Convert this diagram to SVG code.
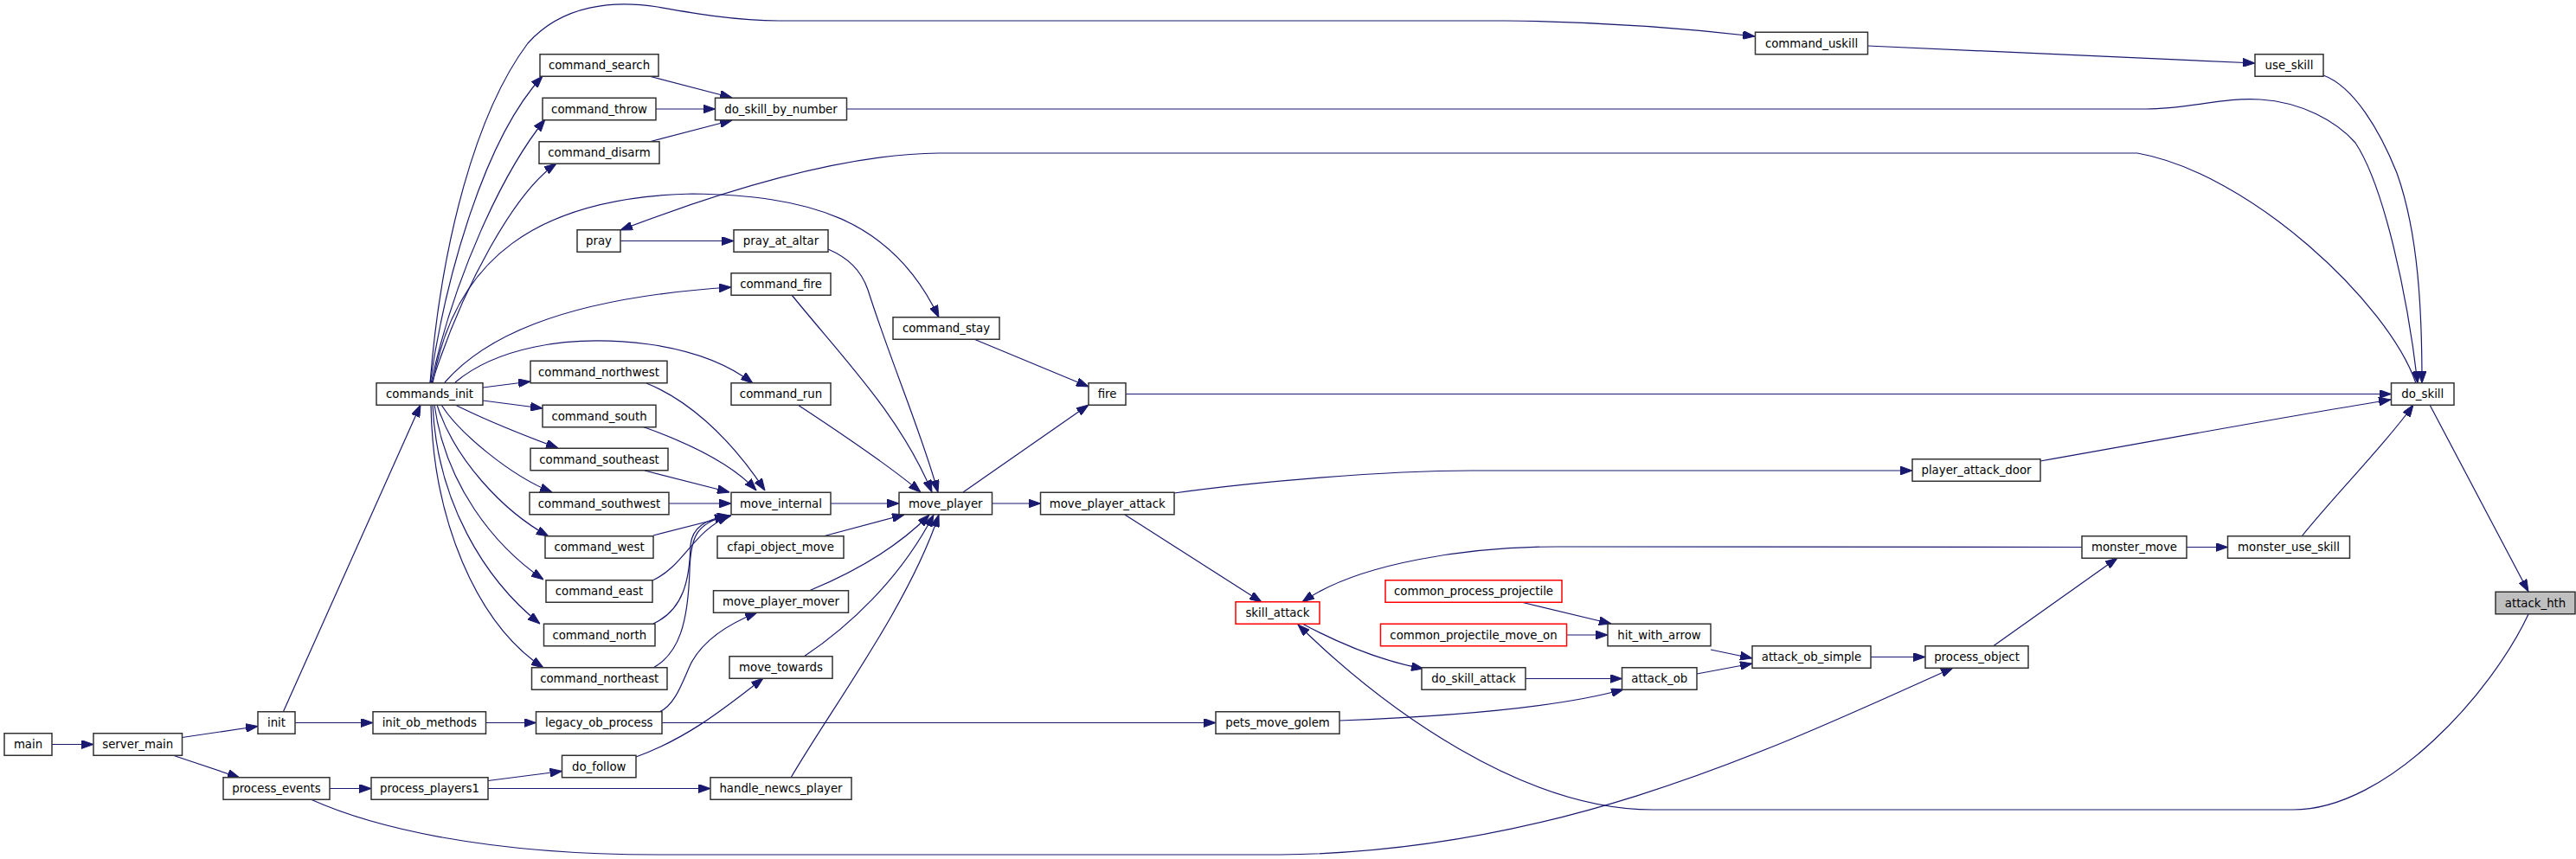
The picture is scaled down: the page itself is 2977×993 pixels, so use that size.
<svg xmlns="http://www.w3.org/2000/svg" width="2977" height="993" viewBox="0 0 2977 993">
<defs>
<marker id="a" markerUnits="userSpaceOnUse" markerWidth="14" markerHeight="10" refX="14" refY="5" orient="auto">
<path d="M0,0 L14,5 L0,10 z" fill="#191970" stroke="#191970" stroke-width="1"/>
</marker>
<style>
.n rect{fill:#fff;stroke:#333;stroke-width:1.5}
.n.r rect{stroke:#ff0000}
.n.g rect{fill:#bfbfbf}
text{font-family:"DejaVu Sans","Liberation Sans",sans-serif;font-size:13.3px;text-anchor:middle;fill:#000}
#edges path{fill:none;stroke:#191970;stroke-width:1.2;marker-end:url(#a)}
</style>
</defs>
<rect width="2977" height="993" fill="#fff"/>
<g id="edges">
<path d="M60,860.5 L108,860.5"/>
<path d="M210.5,852.5 L298,839.5"/>
<path d="M201,873.5 L277,899"/>
<path d="M327.5,822.5 L486,468"/>
<path d="M341,835.5 L431,835.5"/>
<path d="M561.5,835.5 L619.5,835.5"/>
<path d="M381,911.5 L429,911.5"/>
<path d="M359,924 C430,956 560,988 760,988 L1480,988 C1800,985 2050,865 2257,772"/>
<path d="M564,902.5 L649.5,891.5"/>
<path d="M564,911.5 L821,911.5"/>
<path d="M735,875 C790,855 830,825 882,784"/>
<path d="M762,823 C780,815 788,790 798,768 C812,740 840,722 875,708"/>
<path d="M765,835.5 L1405,835.5"/>
<path d="M914,899 C960,820 1050,700 1085,595"/>
<path d="M929,759 C980,725 1040,670 1079,595"/>
<path d="M936,682.5 C990,660 1040,630 1074,595"/>
<path d="M951,620 L1045,595"/>
<path d="M960,582 L1039,582"/>
<path d="M922,468 C960,493 1030,540 1064,569"/>
<path d="M915,341 C975,415 1040,480 1077,569"/>
<path d="M957,288 C980,298 995,312 1003,335 C1030,420 1065,500 1084,569"/>
<path d="M1113,569 L1258,468"/>
<path d="M1125.5,392 L1258,447"/>
<path d="M500,443 C525,300 620,228 800,224 C930,226 1030,250 1085,367"/>
<path d="M514,442 C555,395 640,345 845,332"/>
<path d="M526,442 C570,405 650,385 750,398 C800,405 840,420 870,443"/>
<path d="M497,443 C510,280 550,130 610,50 C650,5 710,0 760,8 C800,15 850,24 900,24 L1740,24 C1850,25 1950,33 2028,42"/>
<path d="M497,443 C515,320 560,160 627,88"/>
<path d="M498,443 C525,320 580,200 630,138"/>
<path d="M499,443 C535,330 595,222 643,189"/>
<path d="M558,448 L613,441"/>
<path d="M558,463 L627,472"/>
<path d="M526,468 C570,490 610,505 645,518"/>
<path d="M510,468 C530,500 590,550 638,569"/>
<path d="M505,468 C525,530 580,590 634,620"/>
<path d="M502,468 C515,560 570,630 628,670"/>
<path d="M500,468 C505,580 560,670 624,721"/>
<path d="M498,468 C500,600 550,720 628,772"/>
<path d="M747,443 C790,460 840,500 884,567"/>
<path d="M742,493 C790,510 845,535 874,567"/>
<path d="M745,544 L843,569"/>
<path d="M773,582 L845,582"/>
<path d="M755,619 L845,596"/>
<path d="M754,671 C790,655 800,615 843,596"/>
<path d="M755,721 C790,705 797,670 798,630 C800,610 815,600 843,596"/>
<path d="M755,772 C785,755 795,720 797,660 C798,620 805,605 840,596"/>
<path d="M750,88 L846,113"/>
<path d="M758,126 L826.5,126"/>
<path d="M750,164 L846,139"/>
<path d="M978.5,126 L2480,126 C2530,126 2570,112 2612,115 C2660,118 2700,140 2722,165 C2755,215 2782,340 2794,443"/>
<path d="M2685,87 C2720,100 2750,150 2770,200 C2795,270 2799,360 2799,443"/>
<path d="M2792,443 C2760,350 2600,200 2470,177 L1085,177 C980,178 850,215 717,266"/>
<path d="M1301,455.5 L2763.5,455.5"/>
<path d="M2358,533 C2500,508 2650,480 2763,462"/>
<path d="M2660,620 C2700,570 2760,510 2789,468"/>
<path d="M2808,468 L2922,684"/>
<path d="M2158.5,53 C2300,58 2450,66 2606,73"/>
<path d="M717,278.5 L848,278.5"/>
<path d="M1146.5,582 L1202.5,582"/>
<path d="M1300,595 L1458,696"/>
<path d="M1357,570 C1450,557 1600,544 1700,544 L2210,544"/>
<path d="M2406,632.5 L1800,632 C1700,632 1570,650 1505,696"/>
<path d="M2922,710 C2880,800 2760,936 2650,936 L1910,936 C1760,936 1600,820 1500,722"/>
<path d="M1505,721 C1550,745 1600,765 1645,773"/>
<path d="M1763,784.5 L1874.5,784.5"/>
<path d="M1548,833 C1680,828 1800,818 1876,797"/>
<path d="M1758,696 L1862,721"/>
<path d="M1810.5,734 L1858,734"/>
<path d="M1977,751 L2025,761"/>
<path d="M1961,779 L2025,767"/>
<path d="M2162,759.5 L2225,759.5"/>
<path d="M2304,746.5 L2447,645"/>
<path d="M2527,632.5 L2574.5,632.5"/>
</g>
<g id="main" class="n"><rect x="5" y="847.75" width="55" height="25.5"/><text x="32.5" y="865">main</text></g>
<g id="server_main" class="n"><rect x="108" y="847.75" width="102.5" height="25.5"/><text x="159.25" y="865">server_main</text></g>
<g id="init" class="n"><rect x="298" y="822.75" width="43" height="25.5"/><text x="319.5" y="840">init</text></g>
<g id="process_events" class="n"><rect x="258" y="898.75" width="123" height="25.5"/><text x="319.5" y="916">process_events</text></g>
<g id="commands_init" class="n"><rect x="435" y="442.75" width="123" height="25.5"/><text x="496.5" y="460">commands_init</text></g>
<g id="init_ob_methods" class="n"><rect x="431" y="822.75" width="130.5" height="25.5"/><text x="496.25" y="840">init_ob_methods</text></g>
<g id="process_players1" class="n"><rect x="429" y="898.75" width="135" height="25.5"/><text x="496.5" y="916">process_players1</text></g>
<g id="command_search" class="n"><rect x="624" y="62.75" width="137" height="25.5"/><text x="692.5" y="80">command_search</text></g>
<g id="command_throw" class="n"><rect x="627" y="113.25" width="131" height="25.5"/><text x="692.5" y="130.5">command_throw</text></g>
<g id="command_disarm" class="n"><rect x="623" y="163.75" width="139" height="25.5"/><text x="692.5" y="181">command_disarm</text></g>
<g id="pray" class="n"><rect x="667" y="265.75" width="50" height="25.5"/><text x="692" y="283">pray</text></g>
<g id="command_northwest" class="n"><rect x="613" y="417.25" width="158" height="25.5"/><text x="692" y="434.5">command_northwest</text></g>
<g id="command_south" class="n"><rect x="627" y="468.25" width="131" height="25.5"/><text x="692.5" y="485.5">command_south</text></g>
<g id="command_southeast" class="n"><rect x="613" y="518.25" width="159" height="25.5"/><text x="692.5" y="535.5">command_southeast</text></g>
<g id="command_southwest" class="n"><rect x="612" y="569.25" width="161" height="25.5"/><text x="692.5" y="586.5">command_southwest</text></g>
<g id="command_west" class="n"><rect x="630" y="619.75" width="125" height="25.5"/><text x="692.5" y="637">command_west</text></g>
<g id="command_east" class="n"><rect x="631" y="670.75" width="123" height="25.5"/><text x="692.5" y="688">command_east</text></g>
<g id="command_north" class="n"><rect x="628.5" y="721.25" width="128.5" height="25.5"/><text x="692.75" y="738.5">command_north</text></g>
<g id="command_northeast" class="n"><rect x="614.5" y="771.75" width="156.5" height="25.5"/><text x="692.75" y="789">command_northeast</text></g>
<g id="legacy_ob_process" class="n"><rect x="619.5" y="822.75" width="145.5" height="25.5"/><text x="692.25" y="840">legacy_ob_process</text></g>
<g id="do_follow" class="n"><rect x="649.5" y="873.25" width="85.5" height="25.5"/><text x="692.25" y="890.5">do_follow</text></g>
<g id="do_skill_by_number" class="n"><rect x="826.5" y="113.25" width="152" height="25.5"/><text x="902.5" y="130.5">do_skill_by_number</text></g>
<g id="pray_at_altar" class="n"><rect x="848" y="265.75" width="109" height="25.5"/><text x="902.5" y="283">pray_at_altar</text></g>
<g id="command_fire" class="n"><rect x="845" y="315.75" width="115" height="25.5"/><text x="902.5" y="333">command_fire</text></g>
<g id="command_run" class="n"><rect x="845" y="442.75" width="115" height="25.5"/><text x="902.5" y="460">command_run</text></g>
<g id="move_internal" class="n"><rect x="845" y="569.25" width="115" height="25.5"/><text x="902.5" y="586.5">move_internal</text></g>
<g id="cfapi_object_move" class="n"><rect x="829" y="619.75" width="146" height="25.5"/><text x="902" y="637">cfapi_object_move</text></g>
<g id="move_player_mover" class="n"><rect x="824.5" y="682.75" width="156" height="25.5"/><text x="902.5" y="700">move_player_mover</text></g>
<g id="move_towards" class="n"><rect x="843" y="758.75" width="119" height="25.5"/><text x="902.5" y="776">move_towards</text></g>
<g id="handle_newcs_player" class="n"><rect x="821" y="898.75" width="163" height="25.5"/><text x="902.5" y="916">handle_newcs_player</text></g>
<g id="command_stay" class="n"><rect x="1032" y="366.75" width="123" height="25.5"/><text x="1093.5" y="384">command_stay</text></g>
<g id="move_player" class="n"><rect x="1039" y="569.25" width="107.5" height="25.5"/><text x="1092.75" y="586.5">move_player</text></g>
<g id="fire" class="n"><rect x="1258" y="442.75" width="43" height="25.5"/><text x="1279.5" y="460">fire</text></g>
<g id="move_player_attack" class="n"><rect x="1202.5" y="569.25" width="154.5" height="25.5"/><text x="1279.75" y="586.5">move_player_attack</text></g>
<g id="skill_attack" class="n r"><rect x="1428" y="695.75" width="97" height="25.5"/><text x="1476.5" y="713">skill_attack</text></g>
<g id="pets_move_golem" class="n"><rect x="1405" y="822.75" width="143" height="25.5"/><text x="1476.5" y="840">pets_move_golem</text></g>
<g id="common_process_projectile" class="n r"><rect x="1601" y="670.75" width="204" height="25.5"/><text x="1703" y="688">common_process_projectile</text></g>
<g id="common_projectile_move_on" class="n r"><rect x="1595.5" y="721.25" width="215" height="25.5"/><text x="1703" y="738.5">common_projectile_move_on</text></g>
<g id="do_skill_attack" class="n"><rect x="1643" y="771.75" width="120" height="25.5"/><text x="1703" y="789">do_skill_attack</text></g>
<g id="hit_with_arrow" class="n"><rect x="1858" y="721.25" width="119" height="25.5"/><text x="1917.5" y="738.5">hit_with_arrow</text></g>
<g id="attack_ob" class="n"><rect x="1874.5" y="771.75" width="86.5" height="25.5"/><text x="1917.75" y="789">attack_ob</text></g>
<g id="attack_ob_simple" class="n"><rect x="2025" y="746.75" width="137" height="25.5"/><text x="2093.5" y="764">attack_ob_simple</text></g>
<g id="command_uskill" class="n"><rect x="2028.5" y="37.25" width="130" height="25.5"/><text x="2093.5" y="54.5">command_uskill</text></g>
<g id="player_attack_door" class="n"><rect x="2210" y="530.75" width="148" height="25.5"/><text x="2284" y="548">player_attack_door</text></g>
<g id="process_object" class="n"><rect x="2225" y="746.75" width="119" height="25.5"/><text x="2284.5" y="764">process_object</text></g>
<g id="monster_move" class="n"><rect x="2406" y="619.75" width="121" height="25.5"/><text x="2466.5" y="637">monster_move</text></g>
<g id="use_skill" class="n"><rect x="2606" y="62.75" width="79" height="25.5"/><text x="2645.5" y="80">use_skill</text></g>
<g id="monster_use_skill" class="n"><rect x="2574.5" y="619.75" width="141" height="25.5"/><text x="2645" y="637">monster_use_skill</text></g>
<g id="do_skill" class="n"><rect x="2763.5" y="442.75" width="72.5" height="25.5"/><text x="2799.75" y="460">do_skill</text></g>
<g id="attack_hth" class="n g"><rect x="2884" y="684.25" width="92" height="25.5"/><text x="2930" y="701.5">attack_hth</text></g>
</svg>
